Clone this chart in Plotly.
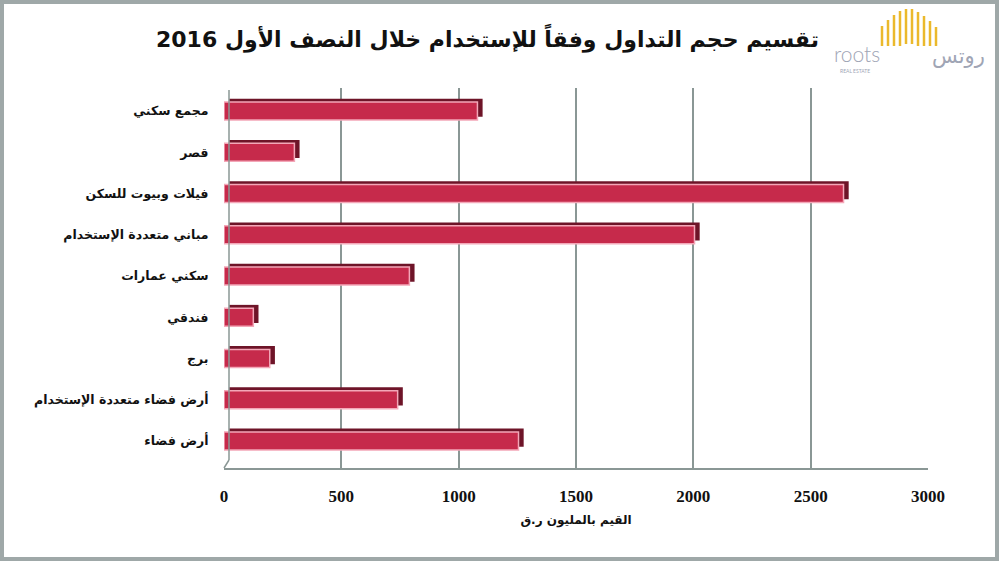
import plotly.graph_objects as go

categories = ["مجمع سكني", "قصر", "فيلات وبيوت للسكن", "مباني متعددة الإستخدام",
              "سكني عمارات", "فندقي", "برج", "أرض فضاء متعددة الإستخدام", "أرض فضاء"]
values = [1080, 300, 2640, 2005, 790, 125, 195, 740, 1255]
x_ticks = [0, 500, 1000, 1500, 2000, 2500, 3000]
title_text = "تقسيم حجم التداول وفقاً للإستخدام خلال النصف الأول 2016"
x_title = "القيم بالمليون ر.ق"

W, H = 1000, 562
L, R, T, B = 224, 72, 88, 94
PW, PH = W - L - R, H - T - B

def px(x):
    return (x - L) / PW

def py(y):
    return (H - B - y) / PH

fig = go.Figure()

# depth (3D side) of bars
fig.add_trace(go.Bar(
    y=categories, x=values, base=22, orientation="h",
    width=0.44, offset=-0.3,
    marker=dict(color="#6E1428", line=dict(width=0)),
    hoverinfo="skip", showlegend=False,
))
# front face of bars
fig.add_trace(go.Bar(
    y=categories, x=values, orientation="h",
    width=0.44, offset=-0.22,
    marker=dict(color="#C62A4B", line=dict(color="#F3A7B8", width=1.5)),
    showlegend=False,
))

shapes = []
# outer frame
shapes.append(dict(type="rect", xref="paper", yref="paper",
                   x0=px(2), x1=px(997), y0=py(559), y1=py(2),
                   line=dict(color="#9FA8A8", width=4), layer="below"))
# left wall line
shapes.append(dict(type="line", xref="paper", yref="paper",
                   x0=px(229), x1=px(229), y0=py(90), y1=py(460),
                   line=dict(color="#8A9795", width=1.5)))
shapes.append(dict(type="line", xref="paper", yref="paper",
                   x0=px(229), x1=px(224), y0=py(460), y1=py(468),
                   line=dict(color="#8A9795", width=1.5)))

# logo: golden arches
gold = "#EBB92C"
logo_x = [882, 888, 894, 900, 906, 912, 918, 924, 930, 936]
logo_top = [26, 20, 15, 11, 9, 9, 12, 16, 21, 27]
logo_bot = [46, 46, 46, 46, 44, 44, 46, 46, 46, 46]
for xx, tp, bt in zip(logo_x, logo_top, logo_bot):
    shapes.append(dict(type="line", xref="paper", yref="paper",
                       x0=px(xx), x1=px(xx), y0=py(bt), y1=py(tp),
                       line=dict(color=gold, width=2.5)))

annotations = [
    dict(text="<b>" + title_text + "</b>", xref="paper", yref="paper",
         x=px(487), y=py(38), showarrow=False,
         font=dict(family="DejaVu Sans, Liberation Serif", size=22, color="#111111"),
         xanchor="center", yanchor="middle"),
    dict(text="roots", xref="paper", yref="paper", x=px(857), y=py(53),
         showarrow=False, font=dict(family="Lato", size=21, color="#A0A5B5", weight=300),
         xanchor="center", yanchor="middle"),
    dict(text="REAL ESTATE", xref="paper", yref="paper", x=px(855), y=py(71),
         showarrow=False, font=dict(family="Lato", size=5, color="#A0A5B5"),
         xanchor="center", yanchor="middle"),
    dict(text="روتس", xref="paper", yref="paper", x=px(958), y=py(56),
         showarrow=False, font=dict(family="DejaVu Sans", size=21, color="#A0A5B5"),
         xanchor="center", yanchor="middle"),
]

fig.update_layout(
    width=W, height=H,
    margin=dict(l=L, r=R, t=T, b=B),
    paper_bgcolor="white", plot_bgcolor="white",
    barmode="overlay",
    shapes=shapes, annotations=annotations,
    xaxis=dict(
        range=[0, 3000], tickvals=x_ticks, ticktext=[str(v) for v in x_ticks],
        showgrid=True, gridcolor="#8A9795", gridwidth=1.5, zeroline=False,
        showline=True, linecolor="#8A9795", linewidth=1.5,
        ticks="outside", ticklen=12, tickcolor="rgba(0,0,0,0)",
        tickfont=dict(family="Liberation Serif", size=17, color="#111111", weight="bold"),
        title=dict(text="<b>" + x_title + "</b>", standoff=10,
                   font=dict(family="DejaVu Sans", size=12, color="#111111")),
        fixedrange=True,
    ),
    yaxis=dict(
        categoryorder="array", categoryarray=categories,
        range=[8.655, -0.558],
        showgrid=False, zeroline=False, showline=False,
        ticks="outside", ticklen=12, tickcolor="rgba(0,0,0,0)",
        tickfont=dict(family="DejaVu Sans", size=12.5, color="#111111", weight="bold"),
        fixedrange=True,
    ),
)

fig.write_html("out.html", config={"displayModeBar": False},
               post_script="document.body.style.margin='0';")
